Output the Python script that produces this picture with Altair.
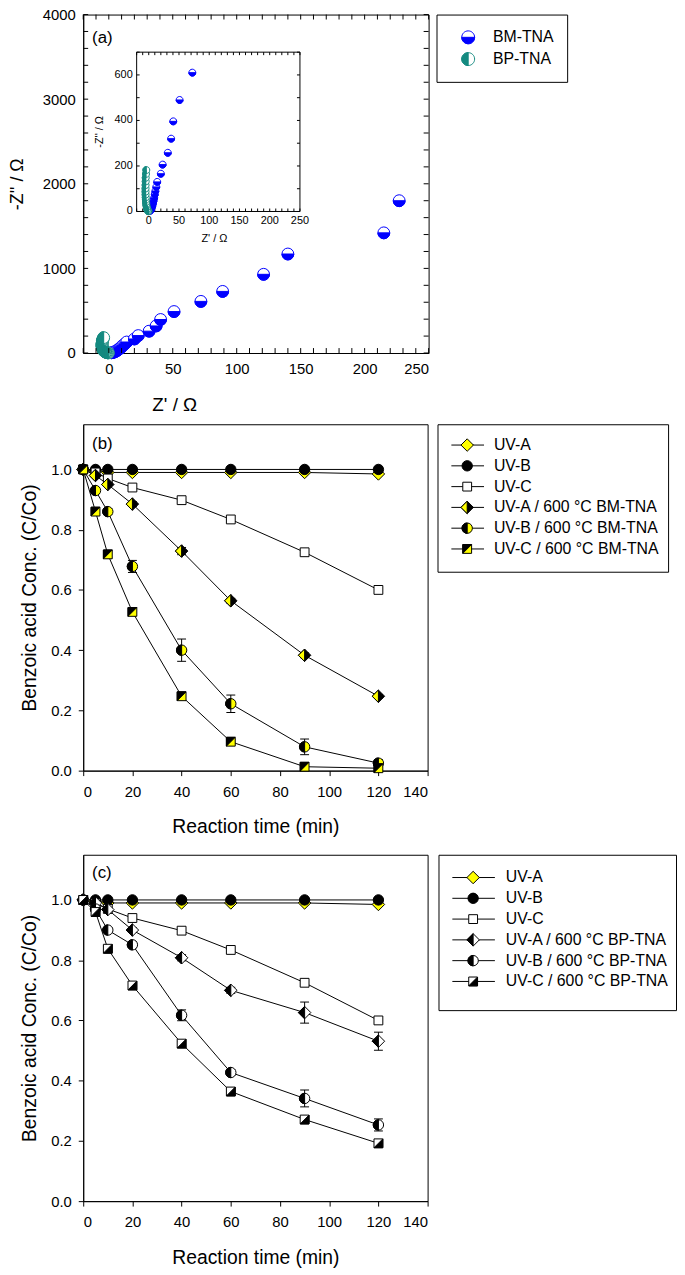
import altair as alt
import pandas as pd

FONT = "Liberation Sans"

# ---------------- panel (a): Nyquist data ----------------
bm_zr = [2, 3, 4, 5, 6, 7, 8, 9, 10, 11, 12.5, 14, 20, 23, 31.5, 37, 40.5, 51, 72, 89, 121, 140, 215, 227]
bm_zi = [3, 6, 11, 18, 26, 36, 48, 60, 75, 90, 108, 130, 166, 206, 258, 320, 396, 490, 610, 728, 930, 1170, 1420, 1800]
bp_zr = [-0.3, -1, -1.7, -2.4, -3, -3.6, -4.1, -4.5, -4.8, -5, -5.2, -5.3, -5.3, -5.2, -5, -5, -4.5, -4]
bp_zi = [1, 3, 6, 11, 17, 24, 32, 41, 51, 62, 74, 87, 101, 116, 132, 148, 165, 182]

A_X_DOMAIN = [-20, 250]
A_Y_DOMAIN = [0, 4000]
A_X_LABELS = [0, 50, 100, 150, 200, 250]
A_Y_LABELS = [0, 1000, 2000, 3000, 4000]
A_X_TICKS = list(range(-20, 251, 10))
A_Y_TICKS = list(range(0, 4001, 200))
IN_Y_DOMAIN = [0, 700]
IN_Y_LABELS = [0, 200, 400, 600]
IN_X_TICKS = list(range(-20, 251, 10))
IN_Y_TICKS = list(range(0, 701, 100))

# ---------------- panels (b), (c): kinetics ----------------
t_min = [0, 5, 10, 20, 40, 60, 90, 120]
uva = [1.0, 0.995, 0.99, 0.99, 0.99, 0.99, 0.99, 0.985]
uvb = [1.0, 1.0, 1.0, 1.0, 1.0, 1.0, 1.0, 1.0]
uvc = [1.0, 0.99, 0.97, 0.94, 0.898, 0.834, 0.725, 0.60]
zero_err = [0, 0, 0, 0, 0, 0, 0, 0]

uva_bm = [1.0, 0.98, 0.95, 0.885, 0.729, 0.564, 0.383, 0.247]
uva_bm_err = [0, 0, 0, 0.008, 0.012, 0.008, 0.008, 0.006]
uvb_bm = [1.0, 0.93, 0.86, 0.678, 0.40, 0.222, 0.079, 0.025]
uvb_bm_err = [0, 0.01, 0.01, 0.02, 0.037, 0.029, 0.026, 0.012]
uvc_bm = [1.0, 0.86, 0.718, 0.527, 0.247, 0.096, 0.013, 0.008]
uvc_bm_err = [0, 0.008, 0.012, 0.012, 0.01, 0.008, 0.006, 0.005]

uva_bp = [1.0, 0.99, 0.968, 0.90, 0.808, 0.70, 0.626, 0.531]
uva_bp_err = [0, 0, 0.008, 0.008, 0.01, 0.01, 0.035, 0.03]
uvb_bp = [1.0, 0.97, 0.90, 0.851, 0.617, 0.427, 0.341, 0.253]
uvb_bp_err = [0, 0.008, 0.008, 0.01, 0.018, 0.01, 0.028, 0.02]
uvc_bp = [1.0, 0.96, 0.838, 0.716, 0.523, 0.364, 0.271, 0.192]
uvc_bp_err = [0, 0.008, 0.01, 0.012, 0.008, 0.012, 0.01, 0.008]

names_b = ["UV-A", "UV-B", "UV-C", "UV-A / 600 °C BM-TNA", "UV-B / 600 °C BM-TNA", "UV-C / 600 °C BM-TNA"]
names_c = ["UV-A", "UV-B", "UV-C", "UV-A / 600 °C BP-TNA", "UV-B / 600 °C BP-TNA", "UV-C / 600 °C BP-TNA"]
K_X_LABELS = [0, 20, 40, 60, 80, 100, 120, 140]
K_Y_LABELS = [0.0, 0.2, 0.4, 0.6, 0.8, 1.0]

# ---------------- marker shapes (unit paths) ----------------
k = 0.5523
CIRCLE = (f"M -1 0 C -1 -{k} -{k} -1 0 -1 C {k} -1 1 -{k} 1 0 "
          f"C 1 {k} {k} 1 0 1 C -{k} 1 -1 {k} -1 0 Z")
HALF_BOTTOM = f"M -1 0 C -1 {k} -{k} 1 0 1 C {k} 1 1 {k} 1 0 Z"
HALF_LEFT = f"M 0 -1 C -{k} -1 -1 -{k} -1 0 C -1 {k} -{k} 1 0 1 Z"
SQUARE = "M -0.85 -0.85 L 0.85 -0.85 L 0.85 0.85 L -0.85 0.85 Z"
SQ_UL = "M -0.85 -0.85 L 0.85 -0.85 L -0.85 0.85 Z"
SQ_LR = "M 0.85 -0.85 L 0.85 0.85 L -0.85 0.85 Z"
DIAMOND = "M 0 -1.2 L 1.2 0 L 0 1.2 L -1.2 0 Z"
DIA_LEFT = "M 0 -1.2 L -1.2 0 L 0 1.2 Z"

YEL, BLK, WHT = "#FFFF00", "#000000", "#FFFFFF"
BLUE, TEAL = "#0000FF", "#148A80"

style_a = {
    "BM-TNA": dict(full=CIRCLE, base=WHT, half=HALF_BOTTOM, hfill=BLUE, stroke=BLUE),
    "BP-TNA": dict(full=CIRCLE, base=WHT, half=HALF_LEFT, hfill=TEAL, stroke=TEAL),
}
style_b = {
    names_b[0]: dict(full=DIAMOND, base=YEL, stroke=BLK),
    names_b[1]: dict(full=CIRCLE, base=BLK, stroke=BLK),
    names_b[2]: dict(full=SQUARE, base=WHT, stroke=BLK),
    names_b[3]: dict(full=DIAMOND, base=BLK, half=DIA_LEFT, hfill=YEL, stroke=BLK),
    names_b[4]: dict(full=CIRCLE, base=YEL, half=HALF_LEFT, hfill=BLK, stroke=BLK),
    names_b[5]: dict(full=SQUARE, base=YEL, half=SQ_UL, hfill=BLK, stroke=BLK),
}
style_c = {
    names_c[0]: dict(full=DIAMOND, base=YEL, stroke=BLK),
    names_c[1]: dict(full=CIRCLE, base=BLK, stroke=BLK),
    names_c[2]: dict(full=SQUARE, base=WHT, stroke=BLK),
    names_c[3]: dict(full=DIAMOND, base=WHT, half=DIA_LEFT, hfill=BLK, stroke=BLK),
    names_c[4]: dict(full=CIRCLE, base=WHT, half=HALF_LEFT, hfill=BLK, stroke=BLK),
    names_c[5]: dict(full=SQUARE, base=WHT, half=SQ_LR, hfill=BLK, stroke=BLK),
}


def marker_layers(df, sty, X, Y, size):
    out = []
    for name, s in sty.items():
        d = df[df["series"] == name]
        out.append(alt.Chart(d).mark_point(shape=s["full"], filled=True, fill=s["base"], stroke=s["stroke"],
                                           strokeWidth=1, size=size, opacity=1).encode(x=X, y=Y))
        if s.get("half"):
            out.append(alt.Chart(d).mark_point(shape=s["half"], filled=True, fill=s["hfill"], stroke=s["stroke"],
                                               strokeWidth=1, size=size, opacity=1).encode(x=X, y=Y))
    return out


def legend_chart(sty, w, h, yrange, sym_x, text_x, size, line_x=None):
    names = list(sty.keys())
    ld = pd.DataFrame({"series": names, "idx": list(range(len(names)))})
    Y = alt.Y("idx:Q", scale=alt.Scale(domain=[0, len(names) - 1], range=yrange), axis=None)
    X = alt.value(sym_x)
    layers = []
    if line_x:
        layers.append(alt.Chart(ld).mark_rule(color="black", strokeWidth=1).encode(
            x=alt.value(line_x[0]), x2=alt.value(line_x[1]), y=Y))
    layers += marker_layers(ld, sty, X, Y, size)
    layers.append(alt.Chart(ld).mark_text(align="left", baseline="middle", fontSize=16, font=FONT).encode(
        x=alt.value(text_x), y=Y, text="series:N"))
    return alt.layer(*layers).properties(width=w, height=h)


# ---------------- panel (a) ----------------
WA, HA = 349, 342
IL, IR = round(WA * 0.155), round(WA * 0.627)
IT, IB = round(HA * 0.112), round(HA * 0.583)

df_a = pd.DataFrame({
    "series": ["BM-TNA"] * len(bm_zr) + ["BP-TNA"] * len(bp_zr),
    "zr": bm_zr + bp_zr,
    "zi": bm_zi + bp_zi,
})
xa = alt.Scale(domain=A_X_DOMAIN, nice=False)
ya = alt.Scale(domain=A_Y_DOMAIN, nice=False)
ax_xa = alt.Axis(values=A_X_LABELS, ticks=False, tickSize=0, labelFontSize=15, labelPadding=9,
                 title="Z' / Ω", titleFontSize=19, titleX=92, titleY=52, titleBaseline="middle", grid=False)
ax_ya = alt.Axis(values=A_Y_LABELS, format="d", ticks=False, tickSize=0, labelFontSize=15, labelPadding=8,
                 title="-Z'' / Ω", titleFontSize=18, titlePadding=16, grid=False)
XA = alt.X("zr:Q", scale=xa, axis=ax_xa)
YA = alt.Y("zi:Q", scale=ya, axis=ax_ya)
xt = pd.DataFrame({"v": A_X_TICKS})
yt = pd.DataFrame({"v": A_Y_TICKS})
XT = alt.X("v:Q", scale=xa, axis=ax_xa)
YT = alt.Y("v:Q", scale=ya, axis=ax_ya)
main_layers = marker_layers(df_a, style_a, XA, YA, 144)
main_layers += [
    alt.Chart(xt).mark_rule(color="black").encode(x=XT, y=alt.value(HA), y2=alt.value(HA - 5)),
    alt.Chart(xt).mark_rule(color="black").encode(x=XT, y=alt.value(0), y2=alt.value(5)),
    alt.Chart(yt).mark_rule(color="black").encode(y=YT, x=alt.value(0), x2=alt.value(5)),
    alt.Chart(yt).mark_rule(color="black").encode(y=YT, x=alt.value(WA), x2=alt.value(WA - 5)),
]
main_layers.append(alt.Chart(pd.DataFrame({"s": ["(a)"]})).mark_text(
    align="left", baseline="middle", fontSize=17, font=FONT).encode(x=alt.value(9), y=alt.value(24), text="s:N"))
main_a = alt.layer(*main_layers)

# inset: own scales whose ranges sit inside the main plot area
xi = alt.Scale(domain=A_X_DOMAIN, range=[IL, IR], nice=False)
yi = alt.Scale(domain=IN_Y_DOMAIN, range=[IB, IT], nice=False)
df_in = df_a[(df_a["zi"] <= IN_Y_DOMAIN[1]) & (df_a["zr"] <= A_X_DOMAIN[1])]
XI = alt.X("zr:Q", scale=xi, axis=None)
YI = alt.Y("zi:Q", scale=yi, axis=None)
frame = pd.DataFrame({"x0": [A_X_DOMAIN[0]], "x1": [A_X_DOMAIN[1]], "y0": [IN_Y_DOMAIN[0]], "y1": [IN_Y_DOMAIN[1]]})
ixt = pd.DataFrame({"v": IN_X_TICKS})
iyt = pd.DataFrame({"v": IN_Y_TICKS})
ixl = pd.DataFrame({"v": A_X_LABELS})
iyl = pd.DataFrame({"v": IN_Y_LABELS})
XIT = alt.X("v:Q", scale=xi, axis=None)
YIT = alt.Y("v:Q", scale=yi, axis=None)
inset_layers = [
    alt.Chart(frame).mark_rect(fill="white", stroke="black", strokeWidth=1).encode(
        x=alt.X("x0:Q", scale=xi, axis=None), x2="x1:Q", y=alt.Y("y0:Q", scale=yi, axis=None), y2="y1:Q"),
    alt.Chart(ixt).mark_rule(color="black").encode(x=XIT, y=alt.value(IB), y2=alt.value(IB - 3)),
    alt.Chart(ixt).mark_rule(color="black").encode(x=XIT, y=alt.value(IT), y2=alt.value(IT + 3)),
    alt.Chart(iyt).mark_rule(color="black").encode(y=YIT, x=alt.value(IL), x2=alt.value(IL + 3)),
    alt.Chart(iyt).mark_rule(color="black").encode(y=YIT, x=alt.value(IR), x2=alt.value(IR - 3)),
    alt.Chart(ixl).mark_text(baseline="top", fontSize=11, font=FONT).encode(
        x=XIT, y=alt.value(IB + 4), text="v:Q"),
    alt.Chart(iyl).mark_text(align="right", baseline="middle", fontSize=11, font=FONT).encode(
        y=YIT, x=alt.value(IL - 4), text="v:Q"),
    alt.Chart(pd.DataFrame({"s": ["Z' / Ω"]})).mark_text(baseline="middle", fontSize=11, font=FONT).encode(
        x=alt.value((IL + IR) / 2 - 4), y=alt.value(IB + 28), text="s:N"),
    alt.Chart(pd.DataFrame({"s": ["-Z'' / Ω"]})).mark_text(baseline="middle", angle=270, fontSize=11,
                                                            font=FONT).encode(
        x=alt.value(IL - 37), y=alt.value((IT + IB) / 2), text="s:N"),
]
inset_layers += marker_layers(df_in, style_a, XI, YI, 49)
inset_a = alt.layer(*inset_layers)

plot_a = alt.layer(main_a, inset_a).resolve_scale(x="independent", y="independent").properties(width=WA, height=HA)
leg_a = legend_chart(style_a, 132, 68, [23, 45], 32, 57, 169)
row_a = alt.hconcat(plot_a, leg_a, spacing=6)


# ---------------- kinetics panels ----------------
def kinetics_frame(names, values, errs):
    rows = []
    for name, vals, er in zip(names, values, errs):
        for ti, v, e in zip(t_min, vals, er):
            rows.append({"series": name, "t": ti, "c": v, "lo": v - e, "hi": v + e, "err": e})
    return pd.DataFrame(rows)


def kinetics_plot(df, sty, tag, tag_y):
    W, H = 348, 350
    xs = alt.Scale(domain=[0, 140], nice=False)
    ys = alt.Scale(domain=[0, 1.15], nice=False)
    ax_x = alt.Axis(values=K_X_LABELS, tickSize=5, labelFontSize=15, labelPadding=9,
                    title="Reaction time (min)", titleFontSize=19.5, titlePadding=19, grid=False)
    ax_y = alt.Axis(values=K_Y_LABELS, format=".1f", tickSize=5, labelFontSize=15, labelPadding=7,
                    title="Benzoic acid Conc. (C/Co)", titleFontSize=19.5, titlePadding=11, grid=False)
    X = alt.X("t:Q", scale=xs, axis=ax_x)
    Y = alt.Y("c:Q", scale=ys, axis=ax_y)
    err = df[df["err"] > 0]
    YL = alt.Y("lo:Q", scale=ys, axis=ax_y)
    YH = alt.Y("hi:Q", scale=ys, axis=ax_y)
    layers = [
        alt.Chart(df).mark_line(color="black", strokeWidth=1).encode(x=X, y=Y, detail="series:N", order="t:Q"),
        alt.Chart(err).mark_rule(color="black", strokeWidth=1).encode(x=X, y=YL, y2="hi:Q"),
        alt.Chart(err).mark_tick(orient="horizontal", size=9, thickness=1, color="black", opacity=1).encode(x=X, y=YL),
        alt.Chart(err).mark_tick(orient="horizontal", size=9, thickness=1, color="black", opacity=1).encode(x=X, y=YH),
    ]
    layers += marker_layers(df, sty, X, Y, 110)
    layers.append(alt.Chart(pd.DataFrame({"s": [tag]})).mark_text(
        align="left", baseline="middle", fontSize=17, font=FONT).encode(x=alt.value(9), y=alt.value(tag_y), text="s:N"))
    return alt.layer(*layers).properties(width=W, height=H)


df_b = kinetics_frame(names_b, [uva, uvb, uvc, uva_bm, uvb_bm, uvc_bm],
                      [zero_err, zero_err, zero_err, uva_bm_err, uvb_bm_err, uvc_bm_err])
df_c = kinetics_frame(names_c, [uva, uvb, uvc, uva_bp, uvb_bp, uvc_bp],
                      [zero_err, zero_err, zero_err, uva_bp_err, uvb_bp_err, uvc_bp_err])

row_b = alt.hconcat(kinetics_plot(df_b, style_b, "(b)", 20),
                    legend_chart(style_b, 233, 149, [21, 126], 30, 57, 110, line_x=[14, 47]), spacing=8)
row_c = alt.hconcat(kinetics_plot(df_c, style_c, "(c)", 18),
                    legend_chart(style_c, 240, 157, [23, 128], 35, 68, 110, line_x=[14, 57]), spacing=9)

chart = alt.vconcat(row_a, alt.vconcat(row_b, row_c, spacing=17), spacing=8).properties(
    padding={"left": 0, "top": -8, "right": 0, "bottom": 0}
).configure_view(stroke="black", strokeWidth=1).configure_axis(
    labelFont=FONT, titleFont=FONT, labelColor="black", titleColor="black", domainColor="black",
    tickColor="black", titleFontWeight="normal", grid=False
).configure_text(font=FONT)

chart.save("out.html", embed_options={"renderer": "svg", "actions": False})
